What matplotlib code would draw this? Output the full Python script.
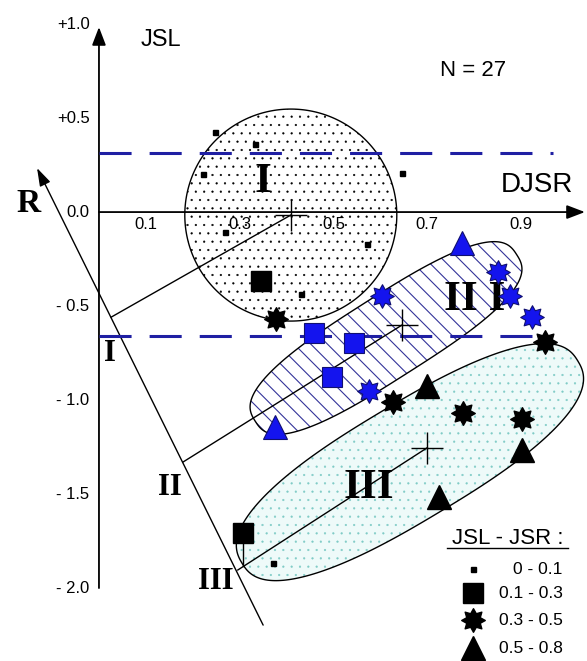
import matplotlib
matplotlib.use('Agg')
import numpy as np
import matplotlib.pyplot as plt
import matplotlib.transforms as mtransforms
from matplotlib.patches import PathPatch
from matplotlib.path import Path

plt.rcParams['font.family'] = ['Liberation Sans', 'DejaVu Sans']
plt.rcParams['hatch.linewidth'] = 0.8

# --- data: (DJSR, JSL) per JSL-JSR class ---
dot_x = [0.247, 0.333, 0.222, 0.269, 0.646, 0.571, 0.431, 0.371]
dot_y = [0.426, 0.362, 0.202, -0.106, 0.207, -0.170, -0.436, -1.867]
sq_x = [0.345, 0.307]
sq_y = [-0.367, -1.707]
sq_blue_x = [0.458, 0.544, 0.497]
sq_blue_y = [-0.644, -0.697, -0.878]
star_x = [0.377, 0.951, 0.627, 0.776, 0.902]
star_y = [-0.569, -0.691, -1.011, -1.069, -1.101]
star_blue_x = [0.603, 0.851, 0.876, 0.923, 0.576]
star_blue_y = [-0.447, -0.319, -0.447, -0.559, -0.952]
tri_blue_x = [0.774, 0.375]
tri_blue_y = [-0.165, -1.144]
tri_x = [0.699, 0.902, 0.725]
tri_y = [-0.926, -1.266, -1.516]

# group centres and their projection on the R axis
group_names = ['I', 'II', 'III']
centre_x = [0.409, 0.646, 0.699]
centre_y = [-0.016, -0.601, -1.255]
proj_x = [0.026, 0.179, 0.296]
proj_y = [-0.559, -1.330, -1.904]
proj_label_x = [0.023, 0.151, 0.249]
proj_label_y = [-0.750, -1.463, -1.963]

# zone outlines: centre (data), half axes in pixels, angle
zone_cx = [0.409, 0.612, 0.663]
zone_cy = [-0.016, -0.670, -1.330]
zone_a = [106, 155, 196]
zone_b = [106, 41, 58]
zone_ang = [0, 32.5, 31]
zone_label = ['I', 'II I', 'III']
zone_label_x = [0.350, 0.800, 0.576]
zone_label_y = [0.160, -0.468, -1.468]

# R axis ends
r_start = (0.350, -2.197)
r_end = (-0.132, 0.234)

y_ticks = [1.0, 0.5, 0.0, -0.5, -1.0, -1.5, -2.0]
y_tick_labels = ['+1.0', '+0.5', '0.0', '- 0.5', '- 1.0', '- 1.5', '- 2.0']
x_ticks = [0.1, 0.3, 0.5, 0.7, 0.9]
x_tick_labels = ['0.1', '0.3', '0.5', '0.7', '0.9']

dash_levels = [0.314, -0.660]
dash_ends = [0.968, 0.951]

legend_labels = ['0 - 0.1', '0.1 - 0.3', '0.3 - 0.5', '0.5 - 0.8']
legend_y = [-1.899, -2.027, -2.170, -2.319]

fig = plt.figure(figsize=(5.87, 6.61), dpi=100)
ax = fig.add_axes([0, 0, 1, 1])
ax.set_xlim(-0.211, 1.0405)
ax.set_ylim(-2.388, 1.128)
ax.axis('off')


def zone(i, n=2.0, **kw):
    # rounded (super)ellipse drawn in pixel units around a data-space centre
    t = np.linspace(0, 2 * np.pi, 300)
    c, s = np.cos(t), np.sin(t)
    u = zone_a[i] * np.sign(c) * np.abs(c) ** (2 / n)
    v = zone_b[i] * np.sign(s) * np.abs(s) ** (2 / n)
    th = np.radians(zone_ang[i])
    xs = (u * np.cos(th) - v * np.sin(th)) / 100
    ys = (u * np.sin(th) + v * np.cos(th)) / 100
    tr = fig.dpi_scale_trans + mtransforms.ScaledTranslation(zone_cx[i], zone_cy[i], ax.transData)
    return PathPatch(Path(np.column_stack([xs, ys]), closed=True), transform=tr, **kw)


# zone I: dotted circle
with plt.rc_context({'hatch.linewidth': 0.35}):
    ax.add_patch(zone(0, facecolor='white', edgecolor='black', hatch='..', lw=1.0, zorder=1))
    # zone III: pale cyan dotted
    ax.add_patch(zone(2, n=2.5, facecolor='#eefaf9', edgecolor='#7fcbc6', hatch='..', lw=0, zorder=1))
ax.add_patch(zone(2, n=2.5, facecolor='none', edgecolor='black', lw=1.0, zorder=1.1))
# zone II: blue diagonal hatching
ax.add_patch(zone(1, n=2.8, facecolor='white', edgecolor='#34349a', hatch='\\\\', lw=0, zorder=1.2))
ax.add_patch(zone(1, n=2.8, facecolor='none', edgecolor='black', lw=1.0, zorder=1.3))

# axes with arrows
arrow = dict(arrowstyle='-|>,head_length=1.1,head_width=0.42', color='black', lw=1.3,
             mutation_scale=10, shrinkA=0, shrinkB=0)
ax.annotate('', xy=(0, 0.984), xytext=(0, -2.0), arrowprops=arrow, zorder=2)
ax.annotate('', xy=(1.036, 0), xytext=(0, 0), arrowprops=arrow, zorder=2)
arrow_r = dict(arrowstyle='-|>,head_length=1.1,head_width=0.35', color='black', lw=1.0,
               mutation_scale=10, shrinkA=0, shrinkB=0)
ax.annotate('', xy=r_end, xytext=r_start, arrowprops=arrow_r, zorder=2)

# dashed blue limits
for lvl, xe in zip(dash_levels, dash_ends):
    ax.plot([0, xe], [lvl, lvl], color='#1f1fa3', lw=2.2, dashes=(10.5, 5.9), zorder=2.5)

# projection lines from R axis to group centres
for px, py, cx, cy in zip(proj_x, proj_y, centre_x, centre_y):
    ax.plot([px, cx], [py, cy], color='black', lw=1.0, zorder=3)
ax.plot([sq_x[1], sq_x[1]], [sq_y[1], -1.885], color='black', lw=1.0, zorder=3)
ax.plot(centre_x, centre_y, ls='none', marker='+', ms=23, mew=1.0, color='black', zorder=3)

# tick labels
for v, t in zip(y_ticks, y_tick_labels):
    ax.text(-0.02, v, t, ha='right', va='center', fontsize=12, zorder=4)
for v, t in zip(x_ticks, x_tick_labels):
    ax.text(v, -0.064, t, ha='center', va='center', fontsize=12, zorder=4)

ax.text(0.132, 0.915, 'JSL', ha='center', va='center', fontsize=17)
ax.text(0.934, 0.144, 'DJSR', ha='center', va='center', fontsize=20)
ax.text(0.797, 0.755, 'N = 27', ha='center', va='center', fontsize=16)

serif = dict(family='Liberation Serif', fontweight='bold')
ax.text(-0.151, 0.048, 'R', ha='center', va='center', fontsize=24, **serif)
for x, y, t in zip(proj_label_x, proj_label_y, group_names):
    ax.text(x, y, t, ha='center', va='center', fontsize=22, **serif)
for x, y, t in zip(zone_label_x, zone_label_y, zone_label):
    ax.text(x, y, t, ha='center', va='center', fontsize=31, zorder=4, **serif)

# data points
star = Path.unit_regular_star(8, 0.62)
blue = dict(mfc='#1414ee', mec='#101070', mew=0.8)
ax.plot(dot_x, dot_y, ls='none', marker='s', ms=3.6, color='black', zorder=5)
ax.plot(sq_x, sq_y, ls='none', marker='s', ms=14, color='black', zorder=5)
ax.plot(sq_blue_x, sq_blue_y, ls='none', marker='s', ms=14, zorder=5, **blue)
ax.plot(star_x, star_y, ls='none', marker=star, ms=17, color='black', zorder=5)
ax.plot(star_blue_x, star_blue_y, ls='none', marker=star, ms=17, zorder=5, **blue)
ax.plot(tri_blue_x, tri_blue_y, ls='none', marker='^', ms=17, zorder=5, **blue)
ax.plot(tri_x, tri_y, ls='none', marker='^', ms=17, color='black', zorder=5)

# legend
ax.text(0.872, -1.734, 'JSL - JSR :', ha='center', va='center', fontsize=16)
ax.plot([0.743, 0.999], [-1.787, -1.787], color='black', lw=1.0)
leg_marker = ['s', 's', star, '^']
leg_size = [3.6, 14, 17, 17]
for y, m, s, t in zip(legend_y, leg_marker, leg_size, legend_labels):
    ax.plot([0.797], [y], ls='none', marker=m, ms=s, color='black')
    ax.text(0.989, y, t, ha='right', va='center', fontsize=12.5)

fig.savefig('out.png', dpi=100)
